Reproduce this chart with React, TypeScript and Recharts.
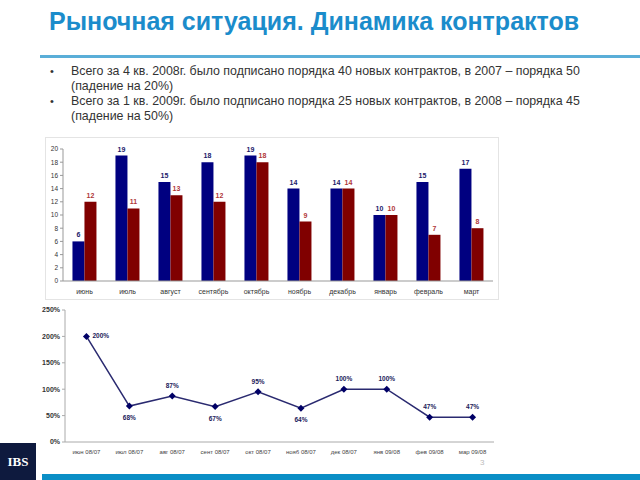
import React from 'react'
import {
  Bar,
  BarChart,
  LabelList,
  Line,
  LineChart,
  XAxis,
  YAxis,
} from 'recharts'

const months = ['июнь', 'июль', 'август', 'сентябрь', 'октябрь', 'ноябрь', 'декабрь', 'январь', 'февраль', 'март']
const contractsPrev = [6, 19, 15, 18, 19, 14, 14, 10, 15, 17]
const contractsCur = [12, 11, 13, 12, 18, 9, 14, 10, 7, 8]
const barTicks = [0, 2, 4, 6, 8, 10, 12, 14, 16, 18, 20]

const ratioLabels = ['июн 08/07', 'июл 08/07', 'авг 08/07', 'сент 08/07', 'окт 08/07', 'нояб 08/07', 'дек 08/07', 'янв 09/08', 'фев 09/08', 'мар 09/08']
const ratioValues = [200, 68, 87, 67, 95, 64, 100, 100, 47, 47]
const ratioTicks = [0, 50, 100, 150, 200, 250]

const bullets = [
  ['Всего за 4 кв. 2008г. было подписано порядка 40 новых контрактов, в 2007 – порядка 50', '(падение на 20%)'],
  ['Всего за 1 кв. 2009г. было подписано порядка 25 новых контрактов, в 2008 – порядка 45', '(падение на 50%)'],
]

const barData = months.map((m, i) => ({ month: m, prev: contractsPrev[i], cur: contractsCur[i] }))
const lineData = ratioLabels.map((m, i) => ({ month: m, value: ratioValues[i] }))

const FONT = '"Liberation Sans", Arial, sans-serif'
const NAVY = '#000080'
const MAROON = '#800000'

function Diamond(props: any) {
  const { cx, cy, index } = props
  if (cx == null || cy == null) return null
  const r = 3.5
  return (
    <polygon
      key={`d-${index}`}
      points={`${cx},${cy - r} ${cx + r},${cy} ${cx},${cy + r} ${cx - r},${cy}`}
      fill="#000066"
    />
  )
}

function RatioLabel(props: any) {
  const { x, y, index, value } = props
  if (x == null || y == null) return null
  const prev = ratioValues[index - 1]
  const next = ratioValues[index + 1]
  let dx = 0
  let dy = -8
  let anchor: 'middle' | 'start' = 'middle'
  if (index === 0) {
    dx = 6
    dy = 2
    anchor = 'start'
  } else if (prev !== undefined && next !== undefined && value < prev && value < next) {
    dy = 14
  }
  return (
    <text x={x + dx} y={y + dy} textAnchor={anchor} fontSize={6.5} fontWeight="bold" fill="#1a1a5a" fontFamily={FONT}>
      {value}%
    </text>
  )
}

export default function App() {
  return (
    <div style={{ position: 'absolute', left: 0, top: 0, width: 640, height: 480, background: '#fff', overflow: 'hidden', fontFamily: FONT }}>
      <div style={{ position: 'absolute', left: 49, top: 7, fontSize: 25, fontWeight: 'bold', color: '#1b8ccb', whiteSpace: 'nowrap' }}>
        Рыночная ситуация. Динамика контрактов
      </div>
      <div style={{ position: 'absolute', left: 40, top: 55, width: 600, height: 3, background: '#5aaed8' }} />

      {bullets.map((b, i) => (
        <div key={i} style={{ position: 'absolute', left: 50, top: 64 + i * 30, fontSize: 12.4, lineHeight: '15px', color: '#333' }}>
          <span style={{ position: 'absolute', left: 0, top: 0, fontSize: 11 }}>•</span>
          <div style={{ position: 'absolute', left: 21, top: 0, whiteSpace: 'nowrap' }}>
            {b[0]}
            <br />
            {b[1]}
          </div>
        </div>
      ))}

      <div style={{ position: 'absolute', left: 45, top: 137, width: 454, height: 163, border: '1px solid #e4e4e4', boxSizing: 'border-box' }} />
      <div style={{ position: 'absolute', left: 45, top: 137 }}>
        <BarChart width={454} height={163} data={barData} margin={{ top: 12, right: 6, left: 0, bottom: 0 }} barGap={0} barCategoryGap="22%">
          <XAxis
            dataKey="month"
            height={19}
            tickLine={false}
            axisLine={{ stroke: '#999' }}
            tick={{ fontSize: 7, fill: '#333', fontFamily: FONT }}
            interval={0}
          />
          <YAxis
            width={18}
            domain={[0, 20]}
            ticks={barTicks}
            tickSize={3}
            axisLine={{ stroke: '#999' }}
            tickLine={{ stroke: '#999' }}
            tick={{ fontSize: 6.5, fill: '#333', fontFamily: FONT }}
            interval={0}
          />
          <Bar dataKey="prev" fill={NAVY} isAnimationActive={false}>
            <LabelList dataKey="prev" position="top" offset={4} style={{ fontSize: 7, fontWeight: 'bold', fill: '#1a1a6a', fontFamily: FONT }} />
          </Bar>
          <Bar dataKey="cur" fill={MAROON} isAnimationActive={false}>
            <LabelList dataKey="cur" position="top" offset={4} style={{ fontSize: 7, fontWeight: 'bold', fill: '#b03838', fontFamily: FONT }} />
          </Bar>
        </BarChart>
      </div>

      <div style={{ position: 'absolute', left: 35, top: 300 }}>
        <LineChart width={464} height={160} data={lineData} margin={{ top: 10, right: 5, left: 0, bottom: 0 }}>
          <XAxis
            dataKey="month"
            scale="band"
            height={18}
            tickLine={false}
            axisLine={{ stroke: '#aaa' }}
            tick={{ fontSize: 6, fill: '#444', fontFamily: FONT }}
            interval={0}
          />
          <YAxis
            width={30}
            domain={[0, 250]}
            ticks={ratioTicks}
            tickFormatter={(v: number) => `${v}%`}
            tickSize={3}
            axisLine={{ stroke: '#aaa' }}
            tickLine={{ stroke: '#aaa' }}
            tick={{ fontSize: 7, fontWeight: 'bold', fill: '#333', fontFamily: FONT }}
            interval={0}
          />
          <Line
            type="linear"
            dataKey="value"
            stroke="#2a2a70"
            strokeWidth={1.5}
            dot={<Diamond />}
            activeDot={false}
            isAnimationActive={false}
            label={<RatioLabel />}
          />
        </LineChart>
      </div>

      <div style={{ position: 'absolute', left: 0, top: 443, width: 36, height: 37, background: '#0e1a3e', color: '#fff', fontFamily: '"Liberation Serif", serif', fontWeight: 'bold', fontSize: 13, display: 'flex', alignItems: 'center', justifyContent: 'center' }}>
        IBS
      </div>
      <div style={{ position: 'absolute', left: 42, top: 474, width: 598, height: 6, background: '#0b8fc6' }} />
      <div style={{ position: 'absolute', left: 480, top: 458, fontSize: 8, lineHeight: '9px', color: '#bbb' }}>3</div>
    </div>
  )
}
